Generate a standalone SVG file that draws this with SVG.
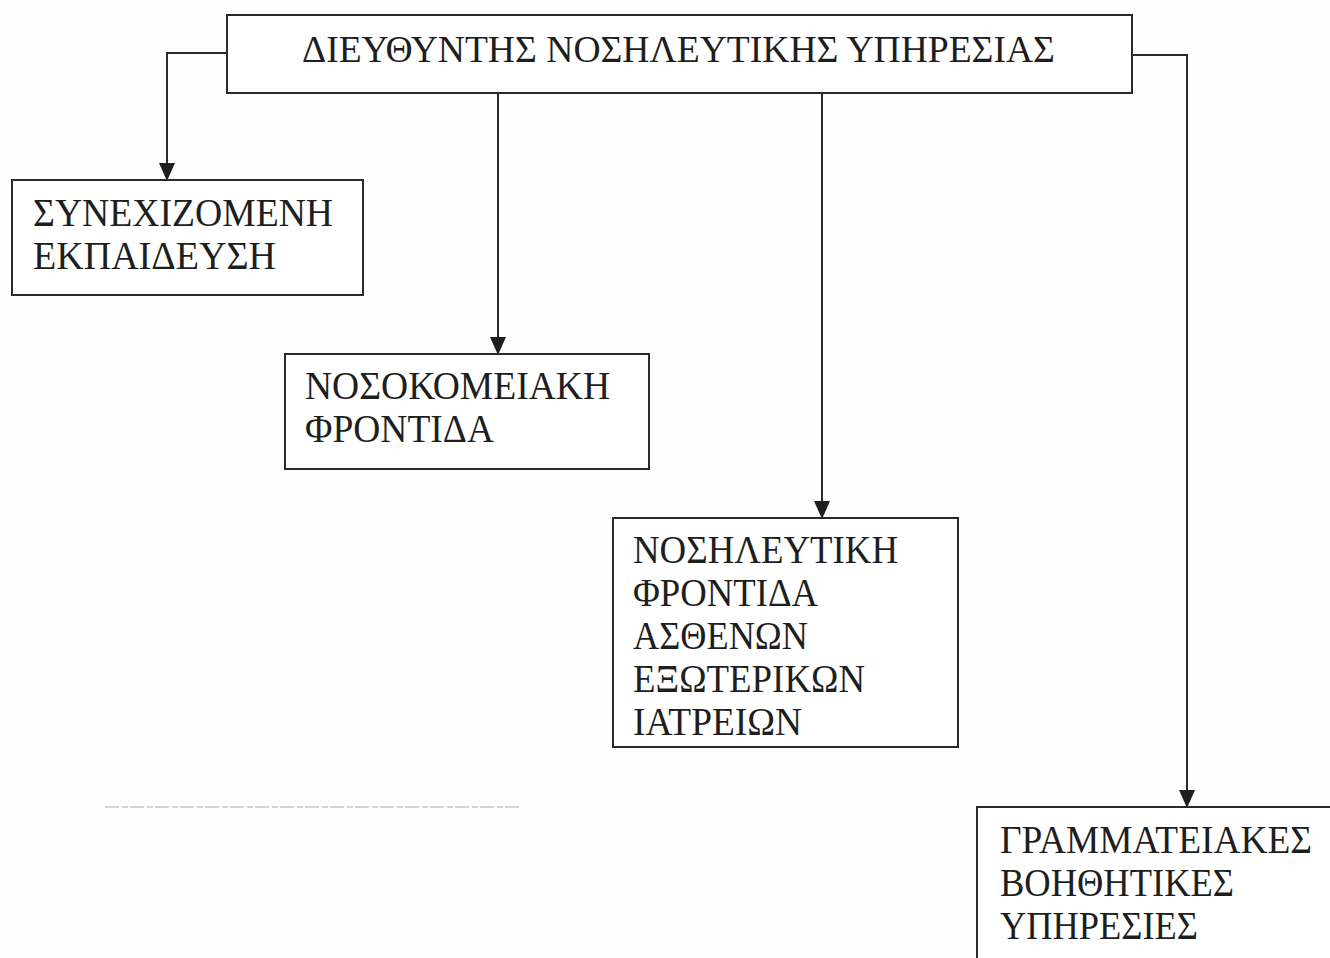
<svg xmlns="http://www.w3.org/2000/svg" width="1330" height="958" viewBox="0 0 1330 958">
  <style>
    .box { fill: #ffffff; stroke: #2a2a2a; stroke-width: 2; }
    .label { font-family: "Liberation Serif", "Times New Roman", serif; font-size: 40px; fill: #1e1e1e; }
    .title { font-family: "Liberation Serif", "Times New Roman", serif; font-size: 37px; fill: #1e1e1e; }
    .link { fill: none; stroke: #2a2a2a; stroke-width: 2; }
    .head { fill: #1e1e1e; }
  </style>
  <rect width="1330" height="958" fill="#fdfefd"/>

  <g id="connectors">
    <path class="link" d="M227,53 H167 V170"/>
    <path class="link" d="M498,93 V344"/>
    <path class="link" d="M822,93 V508"/>
    <path class="link" d="M1132,55 H1187 V797"/>
    <!-- arrowheads -->
    <path class="head" d="M159,163 L175,163 L167,181 Z"/>
    <path class="head" d="M490,337 L506,337 L498,355 Z"/>
    <path class="head" d="M814,501 L830,501 L822,519 Z"/>
    <path class="head" d="M1179,790 L1195,790 L1187,808 Z"/>
  </g>

  <g id="director">
    <rect class="box" x="227" y="15" width="905" height="78"/>
    <text class="title" x="302" y="62" textLength="753" lengthAdjust="spacingAndGlyphs">ΔΙΕΥΘΥΝΤΗΣ ΝΟΣΗΛΕΥΤΙΚΗΣ ΥΠΗΡΕΣΙΑΣ</text>
  </g>

  <g id="education">
    <rect class="box" x="12" y="180" width="351" height="115"/>
    <text class="label" x="33" y="226" textLength="300" lengthAdjust="spacingAndGlyphs">ΣΥΝΕΧΙΖΟΜΕΝΗ</text>
    <text class="label" x="33" y="269" textLength="243" lengthAdjust="spacingAndGlyphs">ΕΚΠΑΙΔΕΥΣΗ</text>
  </g>

  <g id="hospital-care">
    <rect class="box" x="285" y="354" width="364" height="115"/>
    <text class="label" x="305" y="399" textLength="305" lengthAdjust="spacingAndGlyphs">ΝΟΣΟΚΟΜΕΙΑΚΗ</text>
    <text class="label" x="305" y="442" textLength="189" lengthAdjust="spacingAndGlyphs">ΦΡΟΝΤΙΔΑ</text>
  </g>

  <g id="outpatient-care">
    <rect class="box" x="613" y="518" width="345" height="229"/>
    <text class="label" x="633" y="563" textLength="265" lengthAdjust="spacingAndGlyphs">ΝΟΣΗΛΕΥΤΙΚΗ</text>
    <text class="label" x="633" y="606" textLength="185" lengthAdjust="spacingAndGlyphs">ΦΡΟΝΤΙΔΑ</text>
    <text class="label" x="633" y="649" textLength="175" lengthAdjust="spacingAndGlyphs">ΑΣΘΕΝΩΝ</text>
    <text class="label" x="633" y="692" textLength="232" lengthAdjust="spacingAndGlyphs">ΕΞΩΤΕΡΙΚΩΝ</text>
    <text class="label" x="633" y="735" textLength="169" lengthAdjust="spacingAndGlyphs">ΙΑΤΡΕΙΩΝ</text>
  </g>

  <g id="secretarial">
    <rect class="box" x="977" y="807" width="380" height="180"/>
    <text class="label" x="1000" y="853" textLength="312" lengthAdjust="spacingAndGlyphs">ΓΡΑΜΜΑΤΕΙΑΚΕΣ</text>
    <text class="label" x="1000" y="896" textLength="234" lengthAdjust="spacingAndGlyphs">ΒΟΗΘΗΤΙΚΕΣ</text>
    <text class="label" x="1000" y="939" textLength="198" lengthAdjust="spacingAndGlyphs">ΥΠΗΡΕΣΙΕΣ</text>
  </g>

  <!-- faint stray rule near the lower left -->
  <line x1="105" y1="807" x2="520" y2="807" stroke="#c4c8cf" stroke-width="1.5" stroke-dasharray="14 3 6 2"/>
</svg>
